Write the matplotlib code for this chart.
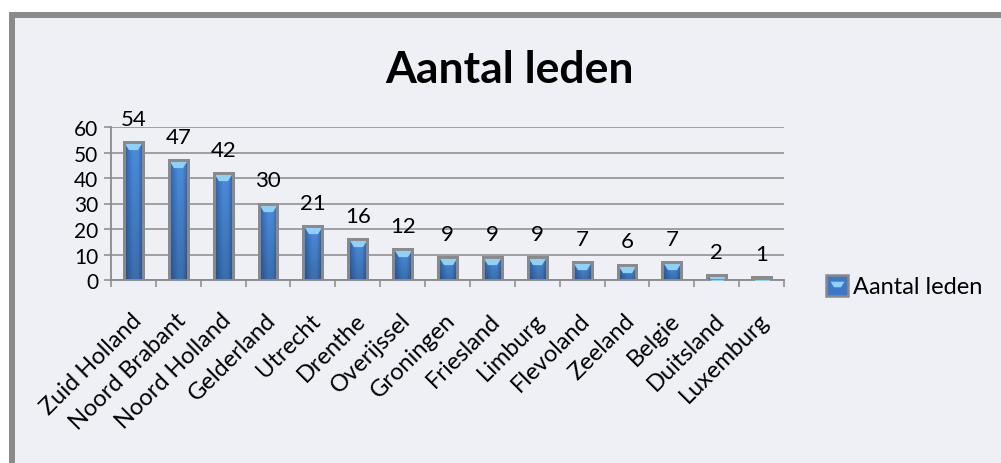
import matplotlib
matplotlib.use("Agg")
import matplotlib.pyplot as plt
import matplotlib.transforms as mtransforms
from matplotlib.patches import Rectangle
from matplotlib.path import Path
from matplotlib.lines import Line2D
from matplotlib.legend_handler import HandlerTuple
from matplotlib.colors import LinearSegmentedColormap
import numpy as np

categories = ["Zuid Holland", "Noord Brabant", "Noord Holland", "Gelderland", "Utrecht",
              "Drenthe", "Overijssel", "Groningen", "Friesland", "Limburg", "Flevoland",
              "Zeeland", "Belgie", "Duitsland", "Luxemburg"]
values = [54, 47, 42, 30, 21, 16, 12, 9, 9, 9, 7, 6, 7, 2, 1]
yticks = [0, 10, 20, 30, 40, 50, 60]
title = "Aantal leden"
series_name = "Aantal leden"

BG = "#EFF0F6"
GRAY = "#8A8A8A"
CAP = "#8FD0F6"
FONT = "Lato"

plt.rcParams["font.family"] = [FONT, "DejaVu Sans"]

W, H = 1001, 464
fig = plt.figure(figsize=(W / 100, H / 100), dpi=100, facecolor="white")

# chart area background with frame (left/top visible)
frame = Rectangle((12 / W, -0.1), 1.2, 1 - 16 / H + 0.1, transform=fig.transFigure,
                  facecolor=BG, edgecolor=GRAY, linewidth=4.3, zorder=-10)
fig.patches.append(frame)

ax = fig.add_axes([111 / W, 1 - 281 / H, (784 - 111) / W, (281 - 128) / H])
ax.set_facecolor("none")
n = len(categories)
x = np.arange(n)

# grid
ax.set_yticks(yticks)
ax.yaxis.grid(True, color=GRAY, linewidth=1.1)
ax.set_axisbelow(True)
for s in ["top", "right"]:
    ax.spines[s].set_visible(False)
for s in ["left", "bottom"]:
    ax.spines[s].set_color(GRAY)
    ax.spines[s].set_linewidth(1.3)

ax.tick_params(axis="y", length=5, width=1.1, color=GRAY, labelsize=15, pad=4)
ax.set_xticks(x)
ax.set_xticklabels(categories, rotation=45, ha="right", va="top",
                   rotation_mode="anchor", fontsize=17)
ax.tick_params(axis="x", which="major", length=0, pad=21)
ax.set_xticks(np.arange(n + 1) - 0.5, minor=True)
ax.tick_params(axis="x", which="minor", length=5, width=1.1, color=GRAY)
offset = mtransforms.ScaledTranslation(-3 / 100, 0, fig.dpi_scale_trans)
for lab in ax.get_xticklabels():
    lab.set_transform(lab.get_transform() + offset)

# bars with gradient
cmap = LinearSegmentedColormap.from_list("blu", ["#2B5EA8", "#3C78C8", "#4B8EDD", "#4A8BDA", "#2F62AB"])
hgrad = cmap(np.linspace(0, 1, 64))[None, :, :3]
vshade = np.linspace(0.78, 1.0, 64)[:, None, None]
grad = np.clip(hgrad * vshade, 0, 1)

bw = 0.42
bars = ax.bar(x, values, width=bw, color="#3C78C8", edgecolor=GRAY, linewidth=2.1, zorder=3)
cap_path = Path([(-1, 0.4), (1, 0.4), (0.5, -0.4), (-0.5, -0.4), (-1, 0.4)],
                [Path.MOVETO, Path.LINETO, Path.LINETO, Path.LINETO, Path.CLOSEPOLY])
down = mtransforms.ScaledTranslation(0, -4 / 100, fig.dpi_scale_trans)
for rect, xi, v in zip(bars, x, values):
    im = ax.imshow(grad, extent=[xi - bw / 2, xi + bw / 2, 0, v], origin="lower",
                   aspect="auto", zorder=3.1, interpolation="bilinear")
    im.set_clip_path(rect)
    ln, = ax.plot([xi], [v], marker=cap_path, markersize=13, color=CAP,
                  markeredgewidth=0, linestyle="none", zorder=3.2,
                  transform=ax.transData + down)
    ln.set_clip_path(rect)
    ax.add_patch(Rectangle((xi - bw / 2, 0), bw, v, facecolor="none",
                           edgecolor=GRAY, linewidth=2.1, zorder=3.3))
    ax.annotate(str(v), (xi, v), xytext=(0, 12.5), textcoords="offset points",
                ha="center", va="baseline", fontsize=16, zorder=5)
ax.set_xlim(-0.5, n - 0.5)
ax.set_ylim(0, 60)

fig.text(510 / W, 1 - 83 / H, title, ha="center", va="baseline",
         fontsize=32, fontweight="bold")

# legend
h_patch = Rectangle((0, 0), 1, 1, facecolor="#3C78C8", edgecolor=GRAY, linewidth=1.8)
h_cap = Line2D([], [], marker=cap_path, markersize=10, color=CAP, linestyle="none",
               markeredgewidth=0)
leg = fig.legend([(h_patch, h_cap)], [series_name],
                 handler_map={tuple: HandlerTuple(ndivide=1)},
                 loc="center left", bbox_to_anchor=(826 / W, 1 - 287 / H),
                 frameon=False, fontsize=17, handlelength=0.95, handleheight=1.0,
                 handletextpad=0.2, borderpad=0, borderaxespad=0)

fig.savefig("out.png", dpi=100, facecolor="white")
